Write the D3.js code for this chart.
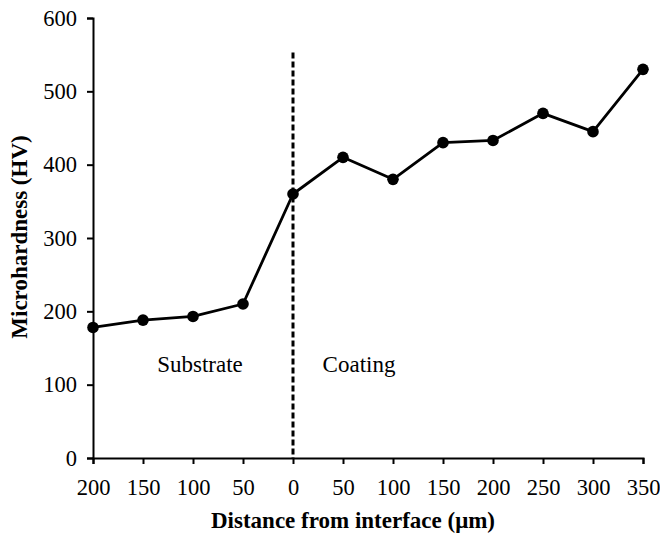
<!DOCTYPE html>
<html>
<head>
<meta charset="utf-8">
<script src="https://cdn.jsdelivr.net/npm/d3@7"></script>
<style>
  html, body { margin: 0; padding: 0; background: #fff; }
  svg { display: block; font-family: "Liberation Serif", "Times New Roman", serif; }
</style>
</head>
<body>
<svg id="chart" width="660" height="536"></svg>
<script>
// Signed distance: negative = substrate side, positive = coating side
const distances = [-200, -150, -100, -50, 0, 50, 100, 150, 200, 250, 300, 350];
const hardness = [178, 188, 193, 210, 360, 410, 380, 430, 433, 470, 445, 530];
const xTicks = [-200, -150, -100, -50, 0, 50, 100, 150, 200, 250, 300, 350];
const yTicks = [0, 100, 200, 300, 400, 500, 600];
const interfaceTop = 553;

const svg = d3.select("#chart");
const margin = { left: 93, right: 17, top: 18, bottom: 78 };
const W = 660, H = 536;
const serif = "'Liberation Serif', 'Times New Roman', serif";

const x = d3.scaleLinear().domain([-200, 350]).range([margin.left, W - margin.right]);
const y = d3.scaleLinear().domain([0, 600]).range([H - margin.bottom, margin.top]);

// Axes
const xAxis = d3.axisBottom(x).tickValues(xTicks).tickSize(6).tickPadding(15)
  .tickFormat(d => Math.abs(d));
const yAxis = d3.axisLeft(y).tickValues(yTicks).tickSize(6).tickPadding(10);

const gx = svg.append("g").attr("transform", `translate(0,${y(0)})`).call(xAxis);
const gy = svg.append("g").attr("transform", `translate(${x(-200)},0)`).call(yAxis);

[gx, gy].forEach(g => {
  g.select(".domain").attr("stroke", "#000").attr("stroke-width", 2);
  g.selectAll(".tick line").attr("stroke", "#000").attr("stroke-width", 2);
  g.selectAll(".tick text").attr("fill", "#000")
    .style("font-family", serif)
    .style("font-size", "22.5px");
});

// Interface marker
svg.append("line")
  .attr("x1", x(0)).attr("x2", x(0))
  .attr("y1", y(interfaceTop)).attr("y2", y(0))
  .attr("stroke", "#000").attr("stroke-width", 3)
  .attr("stroke-dasharray", "6,3");

// Series line
const line = d3.line().x((d, i) => x(distances[i])).y(d => y(d));
svg.append("path")
  .datum(hardness)
  .attr("d", line)
  .attr("fill", "none")
  .attr("stroke", "#000")
  .attr("stroke-width", 2.8)
  .attr("stroke-linejoin", "round");

svg.selectAll("circle.pt")
  .data(hardness)
  .enter().append("circle")
  .attr("class", "pt")
  .attr("cx", (d, i) => x(distances[i]))
  .attr("cy", d => y(d))
  .attr("r", 5.8)
  .attr("fill", "#000");

// Region labels
svg.append("text").attr("x", 200).attr("y", 372)
  .attr("text-anchor", "middle").style("font-size", "23px").text("Substrate");
svg.append("text").attr("x", 359).attr("y", 372)
  .attr("text-anchor", "middle").style("font-size", "23px").text("Coating");

// Axis titles
svg.append("text")
  .attr("x", 353).attr("y", 528)
  .attr("text-anchor", "middle")
  .style("font-size", "23px").style("font-weight", "bold")
  .text("Distance from interface (μm)");

svg.append("text")
  .attr("transform", `translate(27,237) rotate(-90)`)
  .attr("text-anchor", "middle")
  .style("font-size", "23px").style("font-weight", "bold")
  .text("Microhardness (HV)");
</script>
</body>
</html>
